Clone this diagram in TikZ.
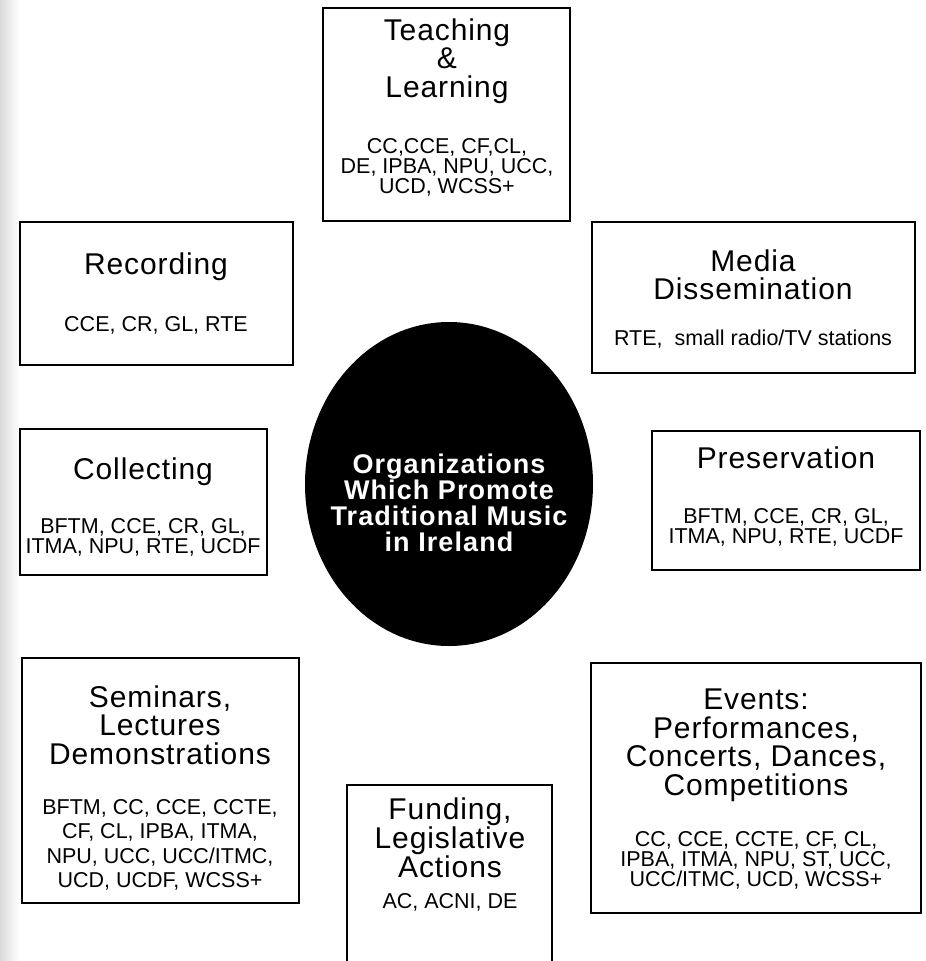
\documentclass[tikz,border=0pt]{standalone}
\usepackage{fontspec}
\setmainfont{Liberation Sans}
\usetikzlibrary{shapes.geometric}
\begin{document}
\begin{tikzpicture}[x=1pt,y=-1pt,
  panel/.style={draw=black, line width=2pt, fill=white, inner sep=0pt, rectangle},
  heading/.style={align=center, inner sep=0pt,
    font=\fontsize{30}{28.5}\selectfont\addfontfeatures{LetterSpace=3}},
  members/.style={align=center, inner sep=0pt, font=\fontsize{21.5}{20}\selectfont},
  hub/.style={ellipse, fill=black, inner sep=0pt},
  hubtext/.style={align=center, inner sep=0pt, text=white,
    font=\fontsize{27}{26}\selectfont\bfseries\addfontfeatures{LetterSpace=4}}]
\useasboundingbox (0,0) rectangle (926,961);
\clip (0,0) rectangle (926,961);
\fill[white] (0,0) rectangle (926,961);
% light grey tone along the left margin
\shade[left color=black!14, right color=white] (0,0) rectangle (20,961);

% central ellipse
\node[hub, minimum width=288, minimum height=324] (hub) at (449,484) {};
\node[hubtext] (hub-t) at (449,503) {Organizations\\Which Promote\\Traditional Music\\in Ireland};

% Teaching & Learning
\node[panel, minimum width=247, minimum height=213] (teach) at (446.5,114.5) {};
\node[heading] (teach-t) at (447,61) {Teaching\\\&\\Learning};
\node[members] (teach-l) at (447,167) {CC,CCE, CF,CL,\\DE, IPBA, NPU, UCC,\\UCD, WCSS+};

% Recording
\node[panel, minimum width=273, minimum height=143] (rec) at (156.5,293.5) {};
\node[heading] (rec-t) at (156,267) {Recording};
\node[members] (rec-l) at (156,325) {CCE, CR, GL, RTE};

% Media Dissemination
\node[panel, minimum width=323, minimum height=151] (media) at (753.5,297.5) {};
\node[heading] (media-t) at (753,275) {Media\\Dissemination};
\node[members] (media-l) at (753,339) {RTE,\ \ small radio/TV stations};

% Collecting
\node[panel, minimum width=247, minimum height=146] (coll) at (143.5,502) {};
\node[heading] (coll-t) at (143,472) {Collecting};
\node[members] (coll-l) at (143,537) {BFTM, CCE, CR, GL,\\ITMA, NPU, RTE, UCDF};

% Preservation
\node[panel, minimum width=268, minimum height=139] (pres) at (786,500.5) {};
\node[heading] (pres-t) at (786,458) {Preservation};
\node[members] (pres-l) at (786,527) {BFTM, CCE, CR, GL,\\ITMA, NPU, RTE, UCDF};

% Seminars, Lectures, Demonstrations
\node[panel, minimum width=277, minimum height=245] (sem) at (160.5,780.5) {};
\node[heading] (sem-t) at (160,725) {Seminars,\\Lectures\\Demonstrations};
\node[members, font=\fontsize{21.5}{24.5}\selectfont] (sem-l) at (160,845) {BFTM, CC, CCE, CCTE,\\CF, CL, IPBA, ITMA,\\NPU, UCC, UCC/ITMC,\\UCD, UCDF, WCSS+};

% Funding, Legislative Actions (runs past the lower edge)
\node[panel, minimum width=205, minimum height=200] (fund) at (449.5,885) {};
\node[heading, font=\fontsize{30}{26.5}\selectfont\addfontfeatures{LetterSpace=3}] (fund-t) at (450,838) {Funding,\\Legislative\\Actions};
\node[members] (fund-l) at (450,902) {AC, ACNI, DE};

% Events
\node[panel, minimum width=330, minimum height=250] (events) at (756,788) {};
\node[heading] (events-t) at (756,745.5) {Events:\\Performances,\\Concerts, Dances,\\Competitions};
\node[members] (events-l) at (756,860) {CC, CCE, CCTE, CF, CL,\\IPBA, ITMA, NPU, ST, UCC,\\UCC/ITMC, UCD, WCSS+};
\end{tikzpicture}
\end{document}
